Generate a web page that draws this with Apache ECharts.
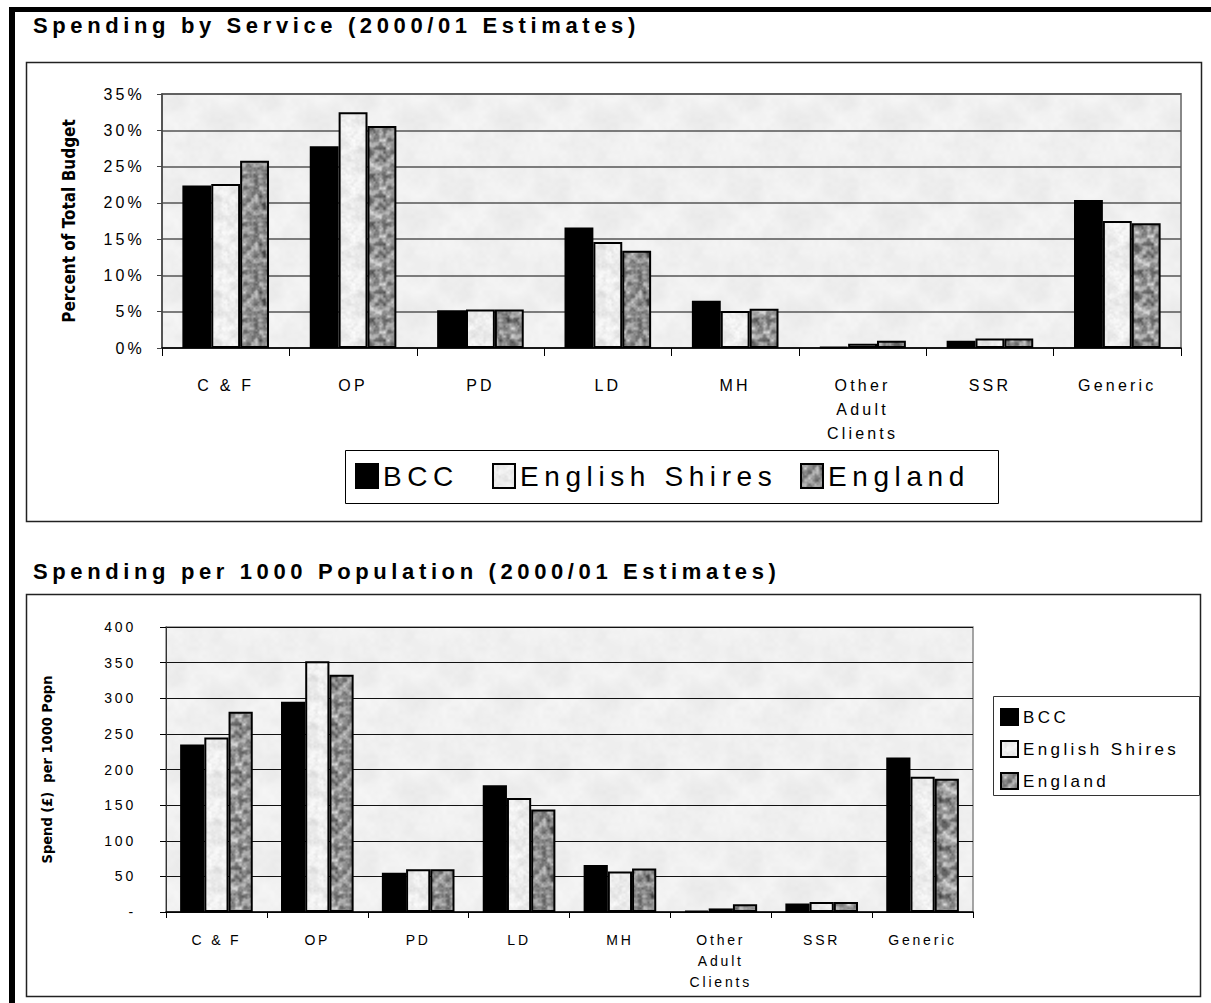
<!DOCTYPE html>
<html>
<head>
<meta charset="utf-8">
<style>
  html, body { margin: 0; padding: 0; background: #fff; }
  #chart { width: 1211px; height: 1003px; }
  /* spaced-out lettering of the original report charts */
  #chart text[style*="Liberation Sans"] { letter-spacing: 0.2em; }
  #chart text[style*="sans-serif"] { letter-spacing: 0.21em; }
  #chart text[style*="Narrow"] { letter-spacing: 0; }
</style>
<script src="https://cdn.jsdelivr.net/npm/echarts@6/dist/echarts.min.js"></script>
</head>
<body>
<div id="chart"></div>
<script>
// ---- data -----------------------------------------------------------
const categories = ['C & F', 'OP', 'PD', 'LD', 'MH', 'Other\nAdult\nClients', 'SSR', 'Generic'];
const seriesNames = ['BCC', 'English Shires', 'England'];

// percent of total budget
const pctBCC     = [22.4, 27.8, 5.2, 16.6, 6.5, 0.15, 1.0, 20.4];
const pctShires  = [22.6, 32.5, 5.3, 14.6, 5.1, 0.6, 1.3, 17.5];
const pctEngland = [25.8, 30.6, 5.3, 13.4, 5.4, 1.0, 1.3, 17.2];

// spend (£) per 1000 population
const spendBCC     = [235, 295, 55, 178, 66, 1.4, 12, 217];
const spendShires  = [245, 352, 60, 160, 57, 5, 14, 190];
const spendEngland = [281, 333, 60, 144, 61, 11, 14, 187];

const pctTickLabels   = ['0%', '5%', '10%', '15%', '20%', '25%', '30%', '35%'];
const spendTickLabels = ['-', '50', '100', '150', '200', '250', '300', '350', '400'];

// ---- fill textures ----------------------------------------------------
function hash2(x, y, seed) {
  let h = Math.imul(x, 374761393) ^ Math.imul(y, 668265263) ^ Math.imul(seed, 1442695041);
  h = Math.imul(h ^ (h >>> 13), 1274126177);
  h ^= h >>> 16;
  return (h >>> 0) / 4294967296;
}
function valueNoise(px, py, cell, period, seed) {
  const gx = px / cell, gy = py / cell;
  const x0 = Math.floor(gx), y0 = Math.floor(gy);
  const fx = gx - x0, fy = gy - y0;
  const sx = fx * fx * (3 - 2 * fx), sy = fy * fy * (3 - 2 * fy);
  const w = a => ((a % period) + period) % period;
  const v00 = hash2(w(x0), w(y0), seed), v10 = hash2(w(x0 + 1), w(y0), seed);
  const v01 = hash2(w(x0), w(y0 + 1), seed), v11 = hash2(w(x0 + 1), w(y0 + 1), seed);
  return (v00 * (1 - sx) + v10 * sx) * (1 - sy) + (v01 * (1 - sx) + v11 * sx) * sy;
}
function texture(size, base, layers, seed) {
  const c = document.createElement('canvas');
  c.width = c.height = size;
  const ctx = c.getContext('2d');
  const img = ctx.createImageData(size, size);
  for (let y = 0; y < size; y++) {
    for (let x = 0; x < size; x++) {
      let v = base;
      layers.forEach(([cell, amp], k) => {
        v += amp * (valueNoise(x, y, cell, size / cell, seed + k * 17) - 0.5) * 2;
      });
      v = Math.max(0, Math.min(255, Math.round(v)));
      const i = (y * size + x) * 4;
      img.data[i] = img.data[i + 1] = img.data[i + 2] = v;
      img.data[i + 3] = 255;
    }
  }
  ctx.putImageData(img, 0, 0);
  return { image: c, repeat: 'repeat', imageWidth: size, imageHeight: size };
}
const englandFill = texture(48, 148, [[8, 45], [4, 50], [2, 20]], 11);
const shiresFill  = texture(48, 237, [[8, 8], [4, 8], [2, 6]], 29);
const plotFill    = texture(96, 239, [[24, 4], [12, 3], [4, 2]], 47);

// ---- shared styles -----------------------------------------------------
const LABEL_FONT = 'Liberation Sans';
const TITLE_FONT = "'Liberation Sans', sans-serif";
const NARROW_FONT = "'Liberation Sans Narrow', 'DejaVu Sans Condensed'";
const fills = ['#000', shiresFill, englandFill];

function barSeries(values, idx, axis, gap) {
  return {
    name: seriesNames[idx],
    type: 'bar',
    xAxisIndex: axis,
    yAxisIndex: axis,
    data: values,
    barGap: '0%',
    barCategoryGap: gap,
    itemStyle: { color: fills[idx], borderColor: '#000', borderWidth: 2 },
    emphasis: { disabled: true },
    animation: false
  };
}

// top legend: one entry per legend component, laid out in a row inside a framed box
const topLegendLeft = [355, 492, 800];
const topLegends = seriesNames.map((name, i) => ({
  left: topLegendLeft[i], top: 462, orient: 'horizontal', icon: 'rect',
  itemWidth: 22, itemHeight: 24, padding: 0,
  selectedMode: false,
  data: [name],
  textStyle: { fontSize: 28, fontFamily: LABEL_FONT, color: '#000' }
}));
// side legend of the lower chart
const sideLegend = {
  left: 1000, top: 708, orient: 'vertical', icon: 'rect',
  itemWidth: 17, itemHeight: 16, itemGap: 14, padding: 0,
  selectedMode: false,
  data: seriesNames,
  textStyle: { fontSize: 17, fontFamily: LABEL_FONT, color: '#000' }
};

const chart = echarts.init(document.getElementById('chart'), null, { renderer: 'svg' });

chart.setOption({
  animation: false,
  backgroundColor: '#fff',
  title: [
    {
      text: 'Spending by Service (2000/01 Estimates)',
      left: 33, top: 14, padding: 0,
      textStyle: { fontSize: 22, fontWeight: 'bold', fontFamily: TITLE_FONT, color: '#000', lineHeight: 22 }
    },
    {
      text: 'Spending per 1000 Population (2000/01 Estimates)',
      left: 33, top: 560, padding: 0,
      textStyle: { fontSize: 22, fontWeight: 'bold', fontFamily: TITLE_FONT, color: '#000', lineHeight: 22 }
    }
  ],
  graphic: [
    // page frame and chart boxes
    { type: 'rect', silent: true, shape: { x: 9, y: 7, width: 6, height: 996 }, style: { fill: '#000' } },
    { type: 'rect', silent: true, shape: { x: 9, y: 7, width: 1202, height: 5 }, style: { fill: '#000' } },
    { type: 'rect', silent: true, shape: { x: 26.5, y: 62.5, width: 1175, height: 459 },
      style: { fill: 'none', stroke: '#222', lineWidth: 1.5 } },
    { type: 'rect', silent: true, shape: { x: 26.5, y: 594.5, width: 1174, height: 402 },
      style: { fill: 'none', stroke: '#222', lineWidth: 1.5 } },
    // legend frames
    { type: 'rect', silent: true, shape: { x: 345.5, y: 450.5, width: 653, height: 53 },
      style: { fill: 'none', stroke: '#000', lineWidth: 1 } },
    { type: 'rect', silent: true, shape: { x: 993.5, y: 696.5, width: 206, height: 99 },
      style: { fill: 'none', stroke: '#333', lineWidth: 1 } }
  ],
  legend: topLegends.concat([sideLegend]),
  grid: [
    { left: 162, top: 94, width: 1019, height: 254, show: true,
      backgroundColor: plotFill, borderColor: '#888', borderWidth: 2 },
    { left: 166, top: 627, width: 807, height: 285, show: true,
      backgroundColor: plotFill, borderColor: '#888', borderWidth: 1.5 }
  ],
  xAxis: [
    {
      type: 'category', gridIndex: 0, data: categories,
      axisLine: { lineStyle: { color: '#000', width: 1.5 } },
      axisTick: { show: true, length: 8, lineStyle: { color: '#000' } },
      axisLabel: { interval: 0, margin: 25, fontSize: 16, lineHeight: 24, color: '#000', fontFamily: LABEL_FONT }
    },
    {
      type: 'category', gridIndex: 1, data: categories,
      axisLine: { lineStyle: { color: '#000', width: 1.5 } },
      axisTick: { show: true, length: 6, lineStyle: { color: '#000' } },
      axisLabel: { interval: 0, margin: 17, fontSize: 14, lineHeight: 21, color: '#000', fontFamily: LABEL_FONT }
    }
  ],
  yAxis: [
    {
      type: 'value', gridIndex: 0, min: 0, max: 35, interval: 5,
      name: 'Percent of Total Budget', nameLocation: 'middle', nameRotate: 90, nameGap: 85,
      nameTextStyle: { fontSize: 17, fontWeight: 'bold', fontFamily: NARROW_FONT, color: '#000' },
      axisLine: { show: true, lineStyle: { color: '#444', width: 1.5 } },
      axisTick: { show: true, length: 5, lineStyle: { color: '#444' } },
      splitLine: { lineStyle: { color: '#555', width: 1.5 } },
      axisLabel: { margin: 17, fontSize: 16, color: '#000', fontFamily: LABEL_FONT,
        formatter: (v, i) => pctTickLabels[i] }
    },
    {
      type: 'value', gridIndex: 1, min: 0, max: 400, interval: 50,
      name: 'Spend (£)  per 1000 Popn', nameLocation: 'middle', nameRotate: 90, nameGap: 112,
      nameTextStyle: { fontSize: 14.5, fontWeight: 'bold', fontFamily: NARROW_FONT, color: '#000' },
      axisLine: { show: true, lineStyle: { color: '#333', width: 1 } },
      axisTick: { show: true, length: 6, lineStyle: { color: '#000' } },
      splitLine: { lineStyle: { color: '#111', width: 1 } },
      axisLabel: { margin: 30, fontSize: 14, color: '#000', fontFamily: LABEL_FONT,
        formatter: (v, i) => spendTickLabels[i] }
    }
  ],
  series: [
    barSeries(pctBCC, 0, 0, '32%'),
    barSeries(pctShires, 1, 0, '32%'),
    barSeries(pctEngland, 2, 0, '32%'),
    barSeries(spendBCC, 0, 1, '28%'),
    barSeries(spendShires, 1, 1, '28%'),
    barSeries(spendEngland, 2, 1, '28%')
  ]
});
</script>
</body>
</html>
